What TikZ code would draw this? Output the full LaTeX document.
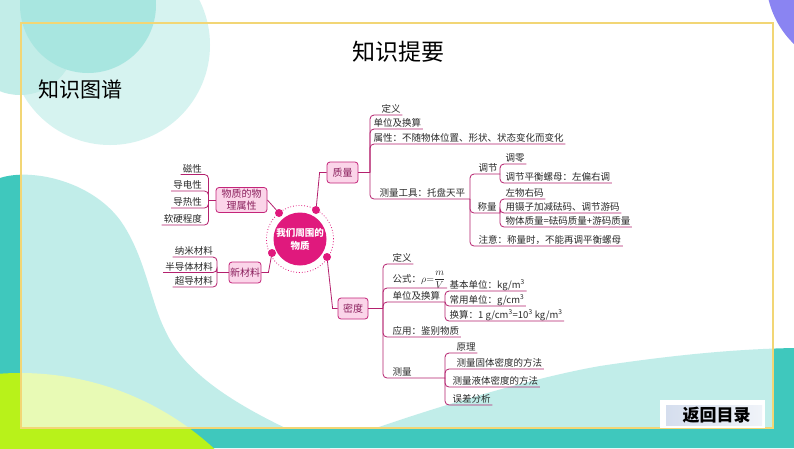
\documentclass[tikz,border=0pt]{standalone}
\usepackage{fontspec}
\setmainfont{Noto Sans CJK SC}
\usetikzlibrary{calc}
\definecolor{teal1}{HTML}{3FC8BD}
\definecolor{lime1}{HTML}{B8F21A}
\definecolor{purp}{HTML}{8A84F2}
\definecolor{circA}{HTML}{A8E6E0}
\definecolor{circB}{HTML}{D6F3F0}
\definecolor{circC}{HTML}{C2EDE8}
\definecolor{frameY}{HTML}{F2D675}
\definecolor{lc}{HTML}{B4216E}
\definecolor{hubc}{HTML}{E0197D}
\definecolor{boxf}{HTML}{FBD5E9}
\definecolor{boxd}{HTML}{C4257A}
\definecolor{boxt}{HTML}{8A1F5C}
\definecolor{leaft}{HTML}{2A2A2A}
\definecolor{btnb}{HTML}{D5DEEE}
\tikzset{
  conn/.style={draw=lc, line width=0.8pt},
  brk/.style={draw=lc, line width=0.8pt, rounded corners=4pt},
  mbox/.style={draw=boxd, fill=boxf, rounded corners=3pt, line width=0.8pt, text=boxt,
    font=\fontsize{10}{12}\selectfont, inner sep=0pt, align=center},
  leafR/.style={anchor=south west, inner xsep=1.5pt, inner ysep=0.3pt, text height=8pt, text depth=2pt,
    text=leaft, font=\fontsize{9.5}{11}\selectfont},
  leafL/.style={anchor=south east, inner xsep=2pt, inner ysep=0.3pt, text height=8pt, text depth=2pt,
    text=leaft, font=\fontsize{9.5}{11}\selectfont},
  dotn/.style={circle, fill=hubc, inner sep=0pt, minimum size=8pt},
}
\begin{document}
\begin{tikzpicture}[x=1pt,y=-1pt]
\useasboundingbox (0,0) rectangle (794,448);
% ---------- background ----------
\fill[white] (0,0) rectangle (794,448);
\fill[teal1] (150,428) rectangle (794,448);
\fill[teal1] (0,178) .. controls (30,168) and (90,180) .. (120,220)
   .. controls (145,255) and (150,300) .. (165,330)
   .. controls (185,375) and (240,410) .. (330,448) -- (0,448) -- cycle;
\fill[teal1] (794,348) -- (794,448) -- (320,448) .. controls (400,418) and (520,380) .. (600,366)
   .. controls (680,354) and (740,349) .. (794,348) -- cycle;
\fill[lime1] (20,660) circle[radius=287pt];
\fill[white, opacity=0.68] (21,23) rectangle (773,428);
\fill[circB] (110,45) circle[radius=100pt];
\fill[circC] (20,40) circle[radius=55pt];
\fill[circA] (88,5) circle[radius=68pt];
\fill[purp] (858,-22) circle[radius=92pt];
\draw[frameY, line width=1.3pt] (21,23) rectangle (773,428);
% ---------- titles ----------
\node[font=\fontsize{23}{26}\selectfont] (title) at (398,52) {知识提要};
\node[anchor=west, inner sep=0pt, font=\fontsize{21}{24}\selectfont] (sub) at (38,89) {知识图谱};
% ---------- button ----------
\node[fill=white, minimum width=105pt, minimum height=28pt, inner sep=0pt] (btn) at (712.5,414) {};
\node[left color=btnb, right color=btnb!35!white, minimum width=96pt, minimum height=20pt, inner sep=0pt] (btnbg) at (714,415) {};
\node[font=\fontsize{17}{20}\selectfont\bfseries] (btntxt) at (716.5,415.5) {返回目录};
% ---------- hub ----------
\draw[hubc, line width=0.8pt, dash pattern=on 0.8pt off 2pt] (300,239) circle[radius=33.5pt];
\node[circle, fill=hubc, minimum size=53pt, inner sep=0pt, text=white, align=center,
  font=\fontsize{9.5}{13}\selectfont\bfseries] (hub) at (300,239) {我们周围的\\物质};
\node[dotn] (d1) at (279,213) {};
\node[dotn] (d2) at (316,210) {};
\node[dotn] (d3) at (272,253) {};
\node[dotn] (d4) at (327,257) {};
% ---------- main boxes ----------
\node[mbox, minimum width=51pt, minimum height=25pt] (wl) at (241.5,200) {物质的物\\理属性};
\node[mbox, minimum width=32pt, minimum height=21pt] (xcl) at (245,272.5) {新材料};
\node[mbox, minimum width=31pt, minimum height=21pt] (zl) at (342.5,172.5) {质量};
\node[mbox, minimum width=30pt, minimum height=21pt] (md) at (353,308.5) {密度};
\draw[conn] (d1) -- (wl.east);
\draw[conn] (d2) -- ($(zl.west)+(-7,0)$) -- (zl.west);
\draw[conn] (d3) -- ($(xcl.east)+(7,0)$) -- (xcl.east);
\draw[conn] (d4) -- ($(md.west)+(-5,0)$) -- (md.west);
% ---------- 质量 branch ----------
\coordinate (zj) at (370,172.5);
\coordinate (cj) at (470,199);
\coordinate (tj) at (500,174);
\coordinate (sj) at (500,213);
\draw[conn] (zl.east) -- (zj);
\node[leafR] (z1) at (380,115) {定义};
\node[leafR] (z2) at (372,129) {单位及换算};
\node[leafR] (z3) at (372,144) {属性：不随物体位置、形状、状态变化而变化};
\node[leafR] (z4) at (378,199) {测量工具：托盘天平};
\draw[brk] (zj) |- (z1.south east);
\draw[brk] (zj) |- (z2.south east);
\draw[brk] (zj) |- (z3.south east);
\draw[brk] (zj) |- (cj);
\node[leafR] (c1) at (477,174) {调节};
\node[leafR] (c2) at (476,213) {称量};
\node[leafR] (c3) at (477,246) {注意：称量时，不能再调平衡螺母};
\draw[brk] (cj) |- (tj);
\draw[brk] (cj) |- (sj);
\draw[brk] (cj) |- (c3.south east);
\node[leafR] (t1) at (504,164) {调零};
\node[leafR] (t2) at (504,183) {调节平衡螺母：左偏右调};
\draw[brk] (tj) |- (t1.south east);
\draw[brk] (tj) |- (t2.south east);
\node[leafR] (s1) at (504,199) {左物右码};
\node[leafR] (s2) at (504,213) {用镊子加减砝码、调节游码};
\node[leafR] (s3) at (504,227) {物体质量=砝码质量+游码质量};
\draw[brk] (sj) |- (s1.south east);
\draw[brk] (sj) |- (s2.south east);
\draw[brk] (sj) |- (s3.south east);
% ---------- 密度 branch ----------
\coordinate (mj) at (383,308.5);
\coordinate (uj) at (445,302);
\coordinate (cl) at (445,378);
\draw[conn] (md.east) -- (mj);
\node[leafR] (m1) at (391,264) {定义};
\node[leafR, text depth=5.5pt] (m2) at (391,288) {公式：{\fontsize{10}{11}\selectfont$\rho{=}\displaystyle\frac{m}{V}$}};
\node[leafR] (m3) at (391,302) {单位及换算};
\node[leafR] (m4) at (391,337) {应用：鉴别物质};
\node[leafR] (m5) at (391,378) {测量};
\draw[brk] (mj) |- (m1.south east);
\draw[brk] (mj) |- (m2.south east);
\draw[brk] (mj) |- (uj);
\draw[brk] (mj) |- (m4.south east);
\draw[brk] (mj) |- (cl);
\node[leafR] (u1) at (448,291) {基本单位：kg/m\textsuperscript{3}};
\node[leafR] (u2) at (448,306) {常用单位：g/cm\textsuperscript{3}};
\node[leafR] (u3) at (448,321) {换算：1 g/cm\textsuperscript{3}=10\textsuperscript{3} kg/m\textsuperscript{3}};
\draw[brk] (uj) |- (u1.south east);
\draw[brk] (uj) |- (u2.south east);
\draw[brk] (uj) |- (u3.south east);
\node[leafR] (l1) at (455,353) {原理};
\node[leafR] (l2) at (455,369) {测量固体密度的方法};
\node[leafR] (l3) at (451,387) {测量液体密度的方法};
\node[leafR] (l4) at (451,405) {误差分析};
\draw[brk] (cl) |- (l1.south east);
\draw[brk] (cl) |- (l2.south east);
\draw[brk] (cl) |- (l3.south east);
\draw[brk] (cl) |- (l4.south east);
% ---------- left branches ----------
\coordinate (wj) at (208.5,200);
\coordinate (xj) at (217,272.5);
\draw[conn] (wl.west) -- (wj);
\draw[conn] (xcl.west) -- (xj);
\node[leafL] (w1) at (204,174.5) {磁性};
\node[leafL] (w2) at (204,191) {导电性};
\node[leafL] (w3) at (204,208) {导热性};
\node[leafL] (w4) at (204,225) {软硬程度};
\draw[brk] (wj) |- (w1.south west);
\draw[brk] (wj) |- (w2.south west);
\draw[brk] (wj) |- (w3.south west);
\draw[brk] (wj) |- (w4.south west);
\node[leafL] (x1) at (215,257) {纳米材料};
\node[leafL] (x2) at (215,272.5) {半导体材料};
\node[leafL] (x3) at (215,287) {超导材料};
\draw[brk] (xj) |- (x1.south west);
\draw[brk] (xj) |- (x2.south west);
\draw[brk] (xj) |- (x3.south west);
\end{tikzpicture}
\end{document}
